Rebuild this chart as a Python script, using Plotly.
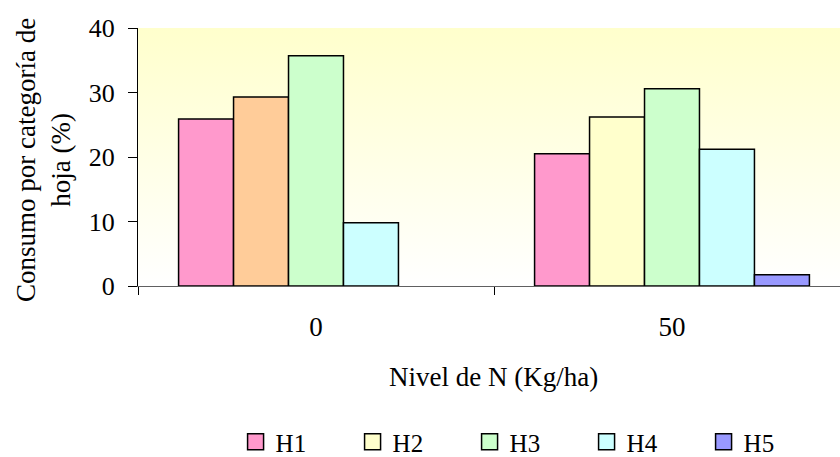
import base64
import plotly.graph_objects as go

categories = ["0", "50"]
series_names = ["H1", "H2", "H3", "H4", "H5"]
h1 = [25.9, 20.5]
h2 = [29.3, 26.2]
h3 = [35.7, 30.6]
h4 = [9.8, 21.2]
h5 = [None, 1.75]
values = [h1, h2, h3, h4, h5]
# per-bar colours (H2 differs between the two groups in the original)
colors = [
    ["#FF99CC", "#FF99CC"],
    ["#FFCC99", "#FFFFCC"],
    ["#CCFFCC", "#CCFFCC"],
    ["#CCFFFF", "#CCFFFF"],
    ["#9999FF", "#9999FF"],
]
legend_colors = ["#FF99CC", "#FFFFCC", "#CCFFCC", "#CCFFFF", "#9999FF"]
y_ticks = [0, 10, 20, 30, 40]

FONT = "Times New Roman, Liberation Serif, Tinos, DejaVu Serif, serif"

fig = go.Figure()
xpos = list(range(len(categories)))
for name, vals, cols in zip(series_names, values, colors):
    fig.add_trace(go.Bar(
        name=name, x=xpos, y=vals, showlegend=False,
        marker=dict(color=cols, line=dict(color="black", width=1.5)),
    ))
for name, col in zip(series_names, legend_colors):
    fig.add_trace(go.Scatter(
        name=name, x=[None], y=[None], mode="markers", showlegend=True,
        marker=dict(symbol="square", size=16, color=col, line=dict(color="black", width=1.5)),
    ))

svg = ('<svg xmlns="http://www.w3.org/2000/svg" width="100" height="100" preserveAspectRatio="none">'
       '<defs><linearGradient id="g" x1="0" y1="0" x2="0" y2="1">'
       '<stop offset="0" stop-color="#FFFFCC"/><stop offset="1" stop-color="#FFFFFF"/>'
       '</linearGradient></defs><rect width="100" height="100" fill="url(#g)"/></svg>')
src = "data:image/svg+xml;base64," + base64.b64encode(svg.encode()).decode()

plot_w = 702
plot_h = 258
cat_w = 356
fig.update_layout(
    width=840, height=457,
    margin=dict(l=138, r=0, t=28, b=171, autoexpand=False),
    paper_bgcolor="white", plot_bgcolor="white",
    barmode="group", bargap=0.228, bargroupgap=0,
    font=dict(family=FONT, size=27, color="black"),
    showlegend=True,
    legend=dict(orientation="h", x=0.139, y=-(442 - 286) / plot_h, xanchor="left", yanchor="middle",
                entrywidth=72, entrywidthmode="pixels", itemwidth=30,
                font=dict(family=FONT, size=25), bgcolor="rgba(0,0,0,0)"),
    images=[dict(source=src, xref="paper", yref="paper", x=0, y=1, sizex=1, sizey=1,
                 sizing="stretch", layer="below", xanchor="left", yanchor="top")],
    xaxis=dict(range=[-0.5, -0.5 + plot_w / cat_w], tickvals=xpos, ticktext=categories,
               ticks="", showgrid=False, zeroline=False, showline=True, linecolor="#606060",
               linewidth=1, ticklabelstandoff=17, tickfont=dict(family=FONT, size=27),
               minor=dict(tickvals=[-0.5, 0.5, 1.5], ticks="outside", ticklen=8,
                          tickcolor="black", tickwidth=1, showgrid=False)),
    yaxis=dict(range=[0, 40], tickvals=y_ticks, ticks="outside", ticklen=9, tickcolor="black",
               showgrid=False, zeroline=False, showline=True, linecolor="black", linewidth=1,
               ticklabelstandoff=8, tickfont=dict(family=FONT, size=26)),
    annotations=[
        dict(text="Consumo por categoría de<br>hoja (%)", xref="paper", yref="paper",
             x=(43 - 138) / plot_w, y=(286 - 160) / plot_h, xanchor="center", yanchor="middle",
             textangle=-90, showarrow=False, font=dict(family=FONT, size=27)),
        dict(text="Nivel de N (Kg/ha)", xref="paper", yref="paper",
             x=(493.5 - 138) / plot_w, y=-(377 - 286) / plot_h, xanchor="center", yanchor="middle",
             showarrow=False, font=dict(family=FONT, size=27)),
    ],
)

fig.write_html("out.html")
